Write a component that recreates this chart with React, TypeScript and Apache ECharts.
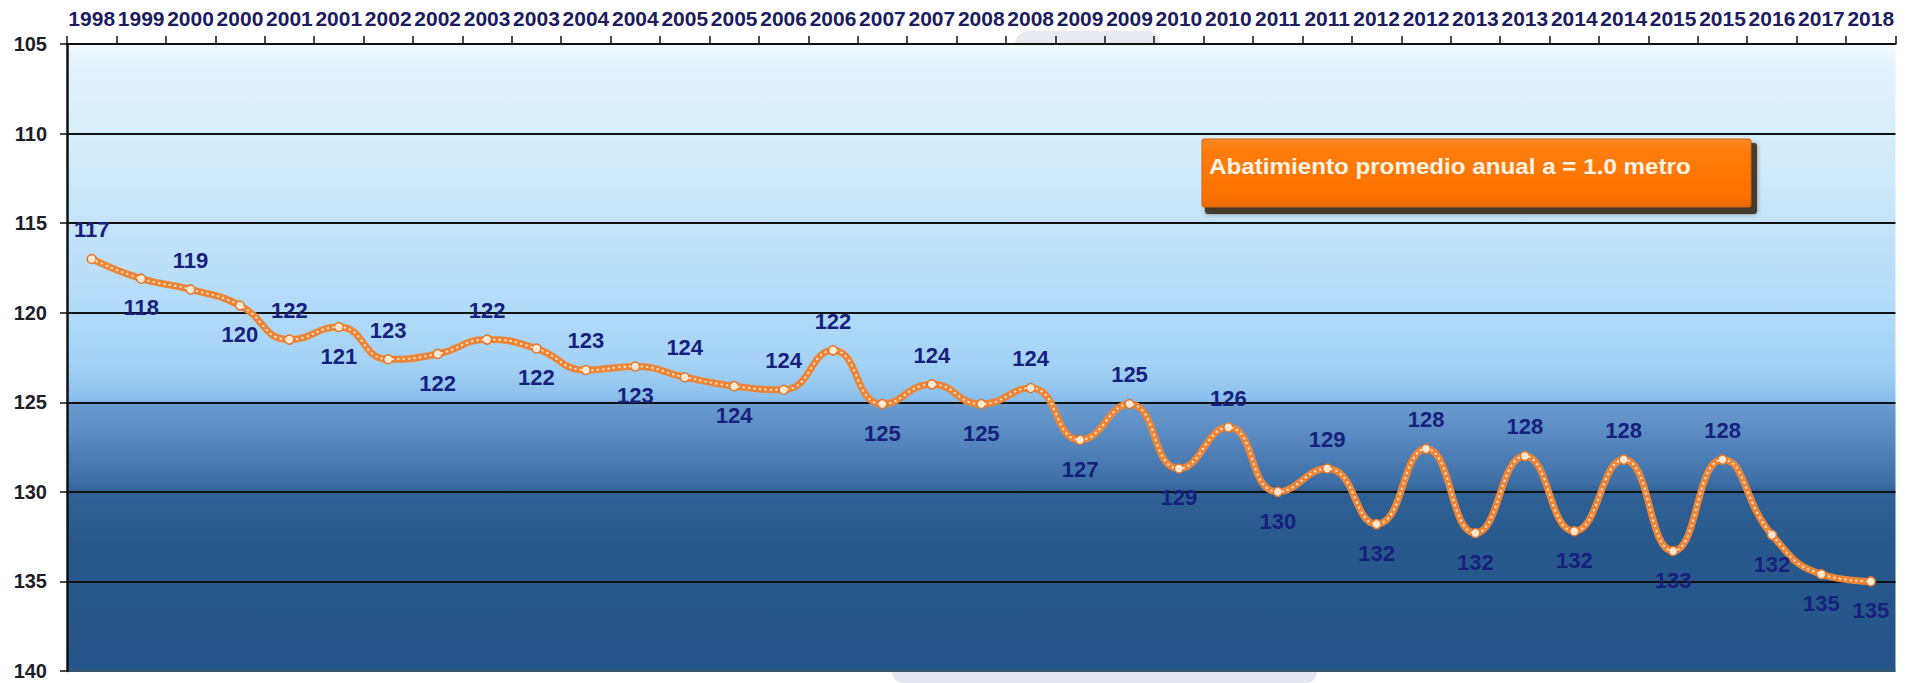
import React, { useEffect, useRef } from "react";
import * as echarts from "echarts";

// Survey dates (two readings a year for most years)
const categories = [
  "1998", "1999", "2000", "2000", "2001", "2001", "2002", "2002", "2003", "2003",
  "2004", "2004", "2005", "2005", "2006", "2006", "2007", "2007", "2008", "2008",
  "2009", "2009", "2010", "2010", "2011", "2011", "2012", "2012", "2013", "2013",
  "2014", "2014", "2015", "2015", "2016", "2017", "2018",
];

// Static water level depth (m)
const depth = [
  117.0, 118.1, 118.7, 119.6, 121.5, 120.8, 122.6, 122.3, 121.5, 122.0,
  123.2, 123.0, 123.6, 124.1, 124.3, 122.1, 125.1, 124.0, 125.1, 124.2,
  127.1, 125.1, 128.7, 126.4, 130.0, 128.7, 131.8, 127.6, 132.3, 128.0,
  132.2, 128.2, 133.3, 128.2, 132.4, 134.6, 135.0,
];

const yTicks = [105, 110, 115, 120, 125, 130, 135, 140];
const yMin = 105;
const yMax = 140;
const yStep = 5;

const noteText = "Abatimiento promedio anual a = 1.0 metro";

const FONT = "'Liberation Sans', Arial, sans-serif";

// Labels alternate around the line; from the 2006 peak on they follow the peaks
function labelAbove(i: number): boolean {
  if (i <= 14) return i % 2 === 0;
  if (i <= 34) return i % 2 === 1;
  return false;
}

export default function App() {
  const ref = useRef<HTMLDivElement>(null);

  useEffect(() => {
    document.body.style.margin = "0";
    document.body.style.background = "#ffffff";
    if (!ref.current) return;
    const chart = echarts.init(ref.current, undefined, { renderer: "svg" });

    const plotFill = new echarts.graphic.LinearGradient(0, 0, 0, 1, [
      { offset: 0.0, color: "#f2faff" },
      { offset: 0.03, color: "#e4f3fd" },
      { offset: 0.143, color: "#d7eefb" },
      { offset: 0.286, color: "#c4e4f9" },
      { offset: 0.429, color: "#b1daf8" },
      { offset: 0.51, color: "#a4d2f5" },
      { offset: 0.55, color: "#92c6ef" },
      { offset: 0.571, color: "#86bbea" },
      { offset: 0.574, color: "#6b9cd0" },
      { offset: 0.64, color: "#5384bc" },
      { offset: 0.7, color: "#3d6fa6" },
      { offset: 0.714, color: "#2f6196" },
      { offset: 0.8, color: "#28598c" },
      { offset: 1.0, color: "#25558a" },
    ]);

    const gridColors = yTicks.map((v) => (v === yMax ? "#3d5670" : "#111111"));

    chart.setOption({
      animation: false,
      backgroundColor: "#ffffff",
      grid: {
        left: 67,
        right: -10,
        top: 44,
        bottom: 12,
        show: true,
        borderWidth: 0,
        backgroundColor: plotFill,
      },
      xAxis: {
        type: "category",
        position: "top",
        data: categories,
        boundaryGap: true,
        axisLine: { show: true, lineStyle: { color: "#111111", width: 2 } },
        axisTick: { show: true, inside: false, length: 8, lineStyle: { color: "#111111", width: 1.5 } },
        axisLabel: {
          interval: 0,
          margin: 15,
          color: "#1c1c60",
          fontFamily: FONT,
          fontWeight: "bold",
          fontSize: 21,
        },
        splitLine: { show: false },
      },
      yAxis: {
        type: "value",
        inverse: true,
        min: yMin,
        max: yMax,
        interval: yStep,
        axisLine: { show: true, lineStyle: { color: "#111111", width: 2.5 } },
        axisTick: { show: true, inside: false, length: 7, lineStyle: { color: "#111111", width: 1.5 } },
        axisLabel: {
          margin: 20,
          color: "#1e1e2a",
          fontFamily: FONT,
          fontWeight: "bold",
          fontSize: 20,
        },
        splitLine: { show: true, lineStyle: { color: gridColors, width: 2 } },
      },
      series: [
        {
          type: "line",
          data: depth.map((v, i) => ({
            value: v,
            label: {
              position: labelAbove(i) ? "top" : "bottom",
            },
          })),
          smooth: true,
          symbol: "circle",
          symbolSize: 9,
          lineStyle: { color: "#ec8537", width: 7 },
          itemStyle: { color: "#fde8d4", borderColor: "#e2772a", borderWidth: 1.5 },
          label: {
            show: true,
            distance: 13,
            formatter: (p: any) => String(Math.round(p.value)),
            color: "#18207e",
            fontFamily: FONT,
            fontWeight: "bold",
            fontSize: 22,
          },
          z: 3,
        },
        {
          type: "line",
          data: depth,
          smooth: true,
          symbol: "none",
          silent: true,
          lineStyle: { color: "#ffe6c8", width: 2, type: [0.5, 5], cap: "round" },
          z: 4,
        },
      ],
      graphic: [
        // faint watermark edges outside the plot area
        {
          type: "rect",
          shape: { x: 1015, y: 31, width: 145, height: 13, r: [40, 40, 0, 0] },
          style: { fill: "#e9eaf1" },
          silent: true,
          z: -1,
        },
        {
          type: "rect",
          shape: { x: 892, y: 672, width: 425, height: 11, r: [0, 0, 24, 24] },
          style: { fill: "#e3e5f0" },
          silent: true,
          z: -1,
        },
        // annual drawdown note
        {
          type: "group",
          x: 1202,
          y: 139,
          z: 100,
          children: [
            {
              type: "rect",
              shape: { x: 3, y: 4, width: 552, height: 71, r: 3 },
              style: { fill: "#3a2818", opacity: 0.85, shadowBlur: 4, shadowColor: "rgba(0,0,0,0.5)" },
            },
            {
              type: "rect",
              shape: { x: 0, y: 0, width: 549, height: 68, r: 2 },
              style: {
                fill: new echarts.graphic.LinearGradient(0, 0, 0, 1, [
                  { offset: 0, color: "#f98a2a" },
                  { offset: 0.15, color: "#ff7d0d" },
                  { offset: 0.85, color: "#fb7200" },
                  { offset: 1, color: "#e86a08" },
                ]),
                stroke: "#d56206",
                lineWidth: 1,
              },
            },
            {
              type: "text",
              x: 7,
              y: 27,
              scaleX: 1.1,
              style: {
                text: noteText,
                fill: "#fff4e6",
                font: `bold 22px ${FONT}`,
                verticalAlign: "middle",
                align: "left",
              },
            },
          ],
        },
      ],
    });

    return () => {
      chart.dispose();
    };
  }, []);

  return (
    <div
      ref={ref}
      style={{ width: 1897, height: 683, overflow: "hidden", background: "#ffffff" }}
    />
  );
}
